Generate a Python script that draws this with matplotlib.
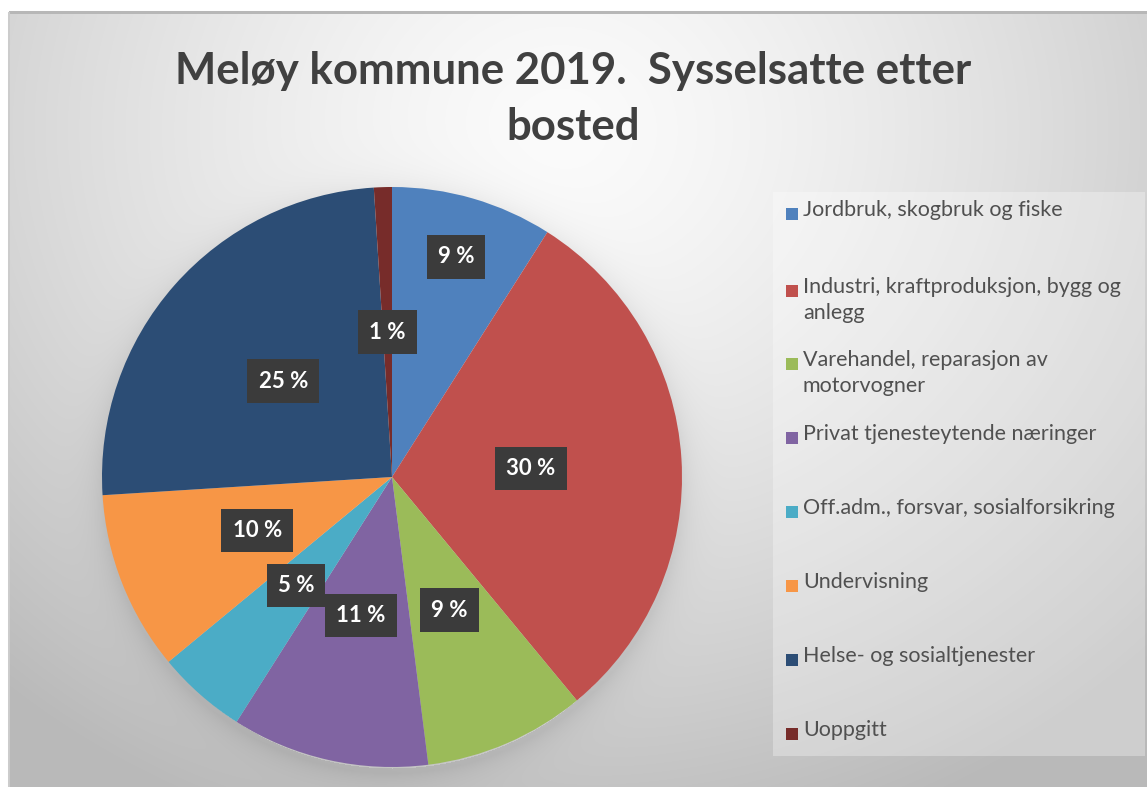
import matplotlib
matplotlib.use("Agg")
import matplotlib.pyplot as plt
import numpy as np

# ---------------------------------------------------------------------------
# Data
# ---------------------------------------------------------------------------
title = "Meløy kommune 2019.  Sysselsatte etter\nbosted"

categories = [
    "Jordbruk, skogbruk og fiske",
    "Industri, kraftproduksjon, bygg og\nanlegg",
    "Varehandel, reparasjon av\nmotorvogner",
    "Privat tjenesteytende næringer",
    "Off.adm., forsvar, sosialforsikring",
    "Undervisning",
    "Helse- og sosialtjenester",
    "Uoppgitt",
]
shares = [9, 30, 9, 11, 5, 10, 25, 1]   # percent

colors = ["#4F81BD", "#C0504D", "#9BBB59", "#8064A2",
          "#4BACC6", "#F79646", "#2C4D75", "#772C2A"]
label_dist = [0.79, 0.48, 0.5, 0.49, 0.5, 0.5, 0.5, 0.5]

FONT = "Lato"
TXT = "#404040"

W, H = 1147, 787
fig = plt.figure(figsize=(W / 100, H / 100), dpi=100)

# ---------------------------------------------------------------------------
# Background: grey radial gradient + soft pie shadow
# ---------------------------------------------------------------------------
yy, xx = np.mgrid[0:H, 0:W].astype(float)
d = np.sqrt(((xx - 560) / 700) ** 2 + ((yy - 130) / 620) ** 2)
shade = 0.985 - 0.20 * np.clip(d, 0, 1.2) ** 1.4
# soft shadow around the pie
cx, cy, R = 392, 477, 290
rr = np.sqrt((xx - cx) ** 2 + (yy - (cy + 6)) ** 2)
shade -= 0.07 * np.exp(-np.clip(rr - R, 0, None) / 14) * (rr > R - 5)
bg = np.dstack([shade] * 3)
inside = (xx >= 9) & (yy >= 12)
bg[~inside] = 1.0
bg[(yy >= 11) & (yy < 14) & (xx >= 9)] = 0.72
bg[(xx >= 8) & (xx < 10) & (yy >= 12)] = 0.80
bax = fig.add_axes([0, 0, 1, 1])
bax.imshow(np.clip(bg, 0, 1), aspect="auto", interpolation="bilinear")
bax.set_axis_off()

# ---------------------------------------------------------------------------
# Pie
# ---------------------------------------------------------------------------
ax = fig.add_axes([(cx - R) / W, (H - cy - R) / H, 2 * R / W, 2 * R / H])
wedges, _ = ax.pie(shares, colors=colors, startangle=90, counterclock=False,
                   radius=1, wedgeprops=dict(linewidth=0))
ax.set_xlim(-1, 1)
ax.set_ylim(-1, 1)
ax.set_axis_off()

for w, v, dist in zip(wedges, shares, label_dist):
    ang = np.deg2rad((w.theta1 + w.theta2) / 2)
    ax.text(dist * np.cos(ang), dist * np.sin(ang), f"{v} %",
            ha="center", va="center", color="white", fontsize=16,
            fontweight="bold", family=FONT,
            bbox=dict(boxstyle="square,pad=0.5", fc="#3b3b3b", ec="none"))

# ---------------------------------------------------------------------------
# Title
# ---------------------------------------------------------------------------
fig.text(0.5, 1 - 99 / H, title, ha="center", va="center", color=TXT,
         fontsize=31.5, fontweight="bold", family=FONT, linespacing=1.5)

# ---------------------------------------------------------------------------
# Legend (drawn by hand to match the evenly spaced slots)
# ---------------------------------------------------------------------------
lx0, ly0, lx1, ly1 = 773, 192, 1145, 756
fig.patches.append(plt.Rectangle((lx0 / W, 1 - ly1 / H), (lx1 - lx0) / W,
                                 (ly1 - ly0) / H, transform=fig.transFigure,
                                 fc="white", alpha=0.3, ec="none"))
slot_top = [201, 278, 351, 425, 499, 573, 647, 721]
for top, lab, col in zip(slot_top, categories, colors):
    fig.patches.append(plt.Rectangle((786 / W, 1 - (top + 19) / H), 12 / W, 12 / H,
                                     transform=fig.transFigure, fc=col, ec="none"))
    fig.text(803 / W, 1 - (top - 1) / H, lab, ha="left", va="top", color="#505050",
             fontsize=15.5, family=FONT, linespacing=1.4)

fig.savefig("out.png", dpi=100)
